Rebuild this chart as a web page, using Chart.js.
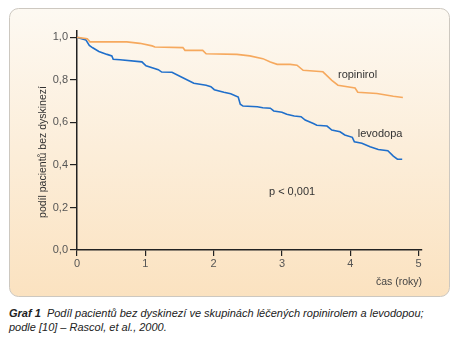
<!DOCTYPE html>
<html>
<head>
<meta charset="utf-8">
<script src="https://cdn.jsdelivr.net/npm/chart.js@4"></script>
<style>
  body { margin: 0; background: #fff; width: 459px; height: 344px; position: relative; overflow: hidden; }
  #chart { position: absolute; left: 0; top: 0; }
  .caption {
    position: absolute; left: 9px; top: 306px;
    font: italic 11px "Liberation Sans", Arial, sans-serif;
    line-height: 14px; color: #222; white-space: nowrap;
  }
  .caption b { font-weight: bold; }
</style>
</head>
<body>
<canvas id="chart" width="459" height="300"></canvas>
<div class="caption"><b>Graf 1</b>&nbsp; Podíl pacientů bez dyskinezí ve skupinách léčených ropinirolem a levodopou;<br>podle [10] – Rascol, et al., 2000.</div>
<script>
const ctx = document.getElementById('chart').getContext('2d');

// time in years, share of patients without dyskinesia
const ropiX = [0, 0.15, 0.19, 0.73, 0.92, 1.10, 1.14, 1.55, 1.58, 1.84, 1.89, 2.34, 2.53, 2.72, 2.83, 2.93,
  3.12, 3.22, 3.31, 3.60, 3.73, 3.82, 4.07, 4.11, 4.39, 4.63, 4.77];
const ropiY = [1.0, 0.994, 0.979, 0.979, 0.972, 0.960, 0.955, 0.952, 0.939, 0.939, 0.923, 0.920, 0.913, 0.900, 0.884, 0.873,
  0.873, 0.869, 0.845, 0.838, 0.798, 0.775, 0.762, 0.742, 0.736, 0.723, 0.717];

const levoX = [0, 0.13, 0.18, 0.23, 0.32, 0.44, 0.51, 0.53, 0.63, 0.95, 1.01, 1.19, 1.24, 1.39, 1.52, 1.71,
  1.89, 1.96, 2.01, 2.15, 2.25, 2.36, 2.39, 2.43, 2.64, 2.72, 2.83, 2.88, 3.00, 3.07, 3.18, 3.28,
  3.34, 3.46, 3.51, 3.66, 3.73, 3.85, 3.92, 4.03, 4.06, 4.17, 4.29, 4.41, 4.55, 4.63, 4.69, 4.76];
const levoY = [1.0, 0.988, 0.962, 0.951, 0.934, 0.920, 0.913, 0.897, 0.895, 0.885, 0.866, 0.848, 0.837, 0.836, 0.815, 0.784,
  0.775, 0.768, 0.754, 0.742, 0.735, 0.719, 0.686, 0.677, 0.674, 0.669, 0.667, 0.654, 0.648, 0.638, 0.630, 0.627,
  0.611, 0.595, 0.587, 0.583, 0.564, 0.556, 0.541, 0.530, 0.509, 0.502, 0.486, 0.473, 0.467, 0.442, 0.427, 0.427];

const xTicks = [0, 1, 2, 3, 4, 5];
const yTicks = [0, 0.2, 0.4, 0.6, 0.8, 1.0];

const seriesNames = ['ropinirol', 'levodopa'];
const yTitle = 'podíl pacientů bez dyskinezí';
const xTitle = 'čas (roky)';
const pText = 'p < 0,001';

const toPoints = (xs, ys) => xs.map((x, i) => ({ x: x, y: ys[i] }));

const FONT = '"Liberation Sans", Arial, sans-serif';

const panel = {
  id: 'panel',
  beforeDraw(chart) {
    const c = chart.ctx;
    const g = c.createLinearGradient(0, 8, 0, 297);
    g.addColorStop(0, '#fdf9f2');
    g.addColorStop(1, '#fbe2c0');
    c.save();
    c.beginPath();
    c.roundRect(9.5, 8.5, 440, 288, 9);
    c.fillStyle = g;
    c.fill();
    c.strokeStyle = '#cdc8c0';
    c.lineWidth = 1;
    c.stroke();
    c.restore();
  },
  afterDraw(chart) {
    const c = chart.ctx;
    const xs = chart.scales.x, ys = chart.scales.y;
    c.save();
    c.fillStyle = '#333';
    c.font = '11px ' + FONT;
    c.textBaseline = 'middle';
    c.textAlign = 'left';
    c.fillText(seriesNames[0], xs.getPixelForValue(3.82), ys.getPixelForValue(0.822));
    c.fillText(seriesNames[1], xs.getPixelForValue(4.11), ys.getPixelForValue(0.545));
    c.fillText(pText, xs.getPixelForValue(2.81), ys.getPixelForValue(0.273));

    // rotated axis title
    c.translate(43, 152);
    c.rotate(-Math.PI / 2);
    c.textAlign = 'center';
    c.font = '10.5px ' + FONT;
    c.fillText(yTitle, 0, 0);
    c.restore();
  }
};

new Chart(ctx, {
  type: 'line',
  data: {
    datasets: [
      {
        label: seriesNames[0],
        data: toPoints(ropiX, ropiY),
        borderColor: '#f6a95e',
        borderWidth: 1.6,
        tension: 0,
        pointRadius: 0,
        fill: false
      },
      {
        label: seriesNames[1],
        data: toPoints(levoX, levoY),
        borderColor: '#1f6fcb',
        borderWidth: 1.6,
        tension: 0,
        pointRadius: 0,
        fill: false
      }
    ]
  },
  options: {
    responsive: false,
    animation: false,
    layout: { padding: { left: 35, top: 31, right: 37, bottom: 12 } },
    plugins: { legend: { display: false }, tooltip: { enabled: false } },
    scales: {
      x: {
        type: 'linear',
        min: 0,
        max: 5.05,
        afterBuildTicks: s => { s.ticks = xTicks.map(v => ({ value: v })); },
        afterFit: s => { s.height = 38; },
        grid: { drawOnChartArea: false, drawTicks: true, tickLength: 6, color: '#222', lineWidth: 1.2 },
        border: { display: true, color: '#222', width: 1.5 },
        ticks: { color: '#555', padding: 1, font: { size: 11, family: FONT }, maxRotation: 0 },
        title: {
          display: true, text: xTitle, align: 'end', color: '#444',
          font: { size: 10.5, family: FONT }, padding: 0
        }
      },
      y: {
        min: 0,
        max: 1.03,
        afterBuildTicks: s => { s.ticks = yTicks.map(v => ({ value: v })); },
        afterFit: s => { s.width = 42; },
        grid: { drawOnChartArea: false, drawTicks: true, tickLength: 7, color: '#222', lineWidth: 1.2 },
        border: { display: true, color: '#222', width: 1.5 },
        ticks: {
          color: '#555', padding: 2, font: { size: 11, family: FONT },
          callback: v => v.toFixed(1).replace('.', ',')
        }
      }
    }
  },
  plugins: [panel]
});
</script>
</body>
</html>
